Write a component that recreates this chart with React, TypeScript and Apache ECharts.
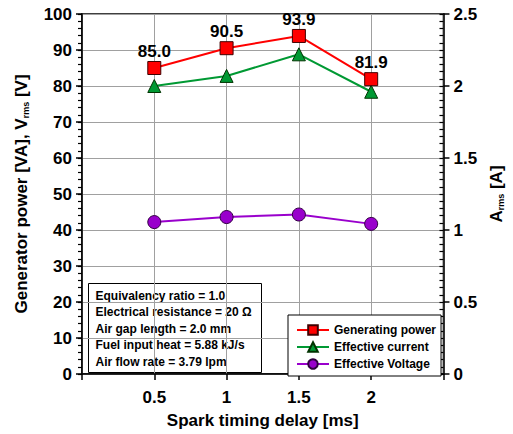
import React, { useEffect, useRef } from "react";
import * as echarts from "echarts";

const delays = [0.5, 1, 1.5, 2];
const generatingPower = [85.0, 90.5, 93.9, 81.9];
const effectiveCurrent = [2.0, 2.07, 2.22, 1.96];
const effectiveVoltage = [42.2, 43.6, 44.3, 41.7];
const infoLines = [
  "Equivalency ratio = 1.0",
  "Electrical resistance = 20 Ω",
  "Air gap length = 2.0 mm",
  "Fuel input heat = 5.88 kJ/s",
  "Air flow rate = 3.79 lpm",
];
const seriesNames = ["Generating power", "Effective current", "Effective Voltage"];

const FONT = "'Liberation Sans', Arial, sans-serif";

export default function App() {
  const ref = useRef<HTMLDivElement>(null);
  useEffect(() => {
    if (!ref.current) return;
    const chart = echarts.init(ref.current, undefined, { renderer: "svg" });
    const pairs = (vals: number[]) => delays.map((d, i) => [d, vals[i]]);
    const grey = "#a0a0a0";
    const labelStyle = { color: "#000", fontSize: 17, fontWeight: "bold", fontFamily: FONT };
    const richName = {
      b: { fontSize: 17, fontWeight: "bold", color: "#000", fontFamily: FONT },
      s: { fontSize: 9, fontWeight: "bold", color: "#000", fontFamily: FONT, verticalAlign: "bottom" },
    };
    chart.setOption({
      animation: false,
      backgroundColor: "#fff",
      textStyle: { fontFamily: FONT },
      grid: {
        left: 82,
        right: 67,
        top: 14,
        bottom: 55,
        show: true,
        borderColor: "#000",
        borderWidth: 1.5,
        backgroundColor: "transparent",
      },
      legend: {
        orient: "vertical",
        left: 288,
        top: 315,
        padding: [9, 5, 6, 8],
        itemGap: 5,
        itemWidth: 32,
        itemHeight: 12,
        backgroundColor: "#fff",
        borderColor: "#000",
        borderWidth: 1,
        borderRadius: 0,
        data: seriesNames,
        textStyle: { fontSize: 12, fontWeight: "bold", color: "#000", fontFamily: FONT },
      },
      xAxis: {
        type: "value",
        min: 0,
        max: 2.5,
        interval: 0.5,
        name: "Spark timing delay [ms]",
        nameLocation: "middle",
        nameGap: 38,
        nameTextStyle: labelStyle,
        axisLine: { show: true, lineStyle: { color: "#000", width: 1.5 } },
        axisTick: { show: true, length: 6, lineStyle: { color: "#000", width: 1.5 } },
        axisLabel: {
          ...labelStyle,
          margin: 15,
          formatter: (v: number) => (v === 0 || v === 2.5 ? "" : String(v)),
        },
        splitLine: { show: true, lineStyle: { color: grey, width: 1 } },
      },
      yAxis: [
        {
          type: "value",
          min: 0,
          max: 100,
          interval: 10,
          position: "left",
          name: "{b|Generator power [VA], V}{s|rms}{b| [V]}",
          nameLocation: "middle",
          nameRotate: 90,
          nameGap: 52,
          nameTextStyle: { rich: richName },
          axisLine: { show: true, lineStyle: { color: "#000", width: 1.5 } },
          axisTick: { show: true, length: 6, lineStyle: { color: "#000", width: 1.5 } },
          axisLabel: { ...labelStyle, margin: 10 },
          splitLine: { show: true, lineStyle: { color: grey, width: 1 } },
        },
        {
          type: "value",
          min: 0,
          max: 2.5,
          interval: 0.5,
          position: "right",
          name: "{b|A}{s|rms}{b| [A]}",
          nameLocation: "middle",
          nameRotate: 90,
          nameGap: 44,
          nameTextStyle: { rich: richName },
          axisLine: { show: true, lineStyle: { color: "#000", width: 1.5 } },
          axisTick: { show: true, length: 6, lineStyle: { color: "#000", width: 1.5 } },
          axisLabel: { ...labelStyle, margin: 10 },
          splitLine: { show: false },
        },
        {
          type: "value",
          min: 0,
          max: 100,
          interval: 2,
          position: "left",
          axisLine: { show: false },
          axisTick: { show: true, inside: false, length: 4, lineStyle: { color: "#000", width: 1.2 } },
          axisLabel: { show: false },
          splitLine: { show: false },
        },
        {
          type: "value",
          min: 0,
          max: 2.5,
          interval: 0.05,
          position: "right",
          axisLine: { show: false },
          axisTick: { show: true, inside: true, length: 4, lineStyle: { color: "#000", width: 1.2 } },
          axisLabel: { show: false },
          splitLine: { show: false },
        },
      ],
      graphic: [
        {
          type: "group",
          left: 88,
          top: 283,
          z: 50,
          children: [
            {
              type: "rect",
              shape: { x: 0, y: 0, width: 173, height: 89 },
              style: { fill: "#fff", stroke: "#000", lineWidth: 1 },
            },
            ...infoLines.map((t, i) => ({
              type: "text",
              x: 7,
              y: 12 + i * 16.5,
              style: {
                text: t,
                fill: "#000",
                font: `bold 12px ${FONT}`,
                verticalAlign: "middle",
              },
            })),
          ],
        },
      ],
      series: [
        {
          name: seriesNames[0],
          type: "line",
          yAxisIndex: 0,
          data: pairs(generatingPower),
          symbol: "rect",
          symbolSize: 13,
          lineStyle: { color: "#ff0000", width: 2 },
          itemStyle: { color: "#ff0000", borderColor: "#400000", borderWidth: 1 },
          label: {
            show: true,
            position: "top",
            distance: 1,
            ...labelStyle,
            formatter: (p: any) => Number(p.value[1]).toFixed(1),
          },
          z: 5,
        },
        {
          name: seriesNames[1],
          type: "line",
          yAxisIndex: 1,
          data: pairs(effectiveCurrent),
          symbol: "triangle",
          symbolSize: 13,
          lineStyle: { color: "#009933", width: 2 },
          itemStyle: { color: "#009933", borderColor: "#003300", borderWidth: 1 },
          z: 4,
        },
        {
          name: seriesNames[2],
          type: "line",
          yAxisIndex: 0,
          data: pairs(effectiveVoltage),
          symbol: "circle",
          symbolSize: 13,
          lineStyle: { color: "#9900cc", width: 2 },
          itemStyle: { color: "#9900cc", borderColor: "#300040", borderWidth: 1 },
          z: 4,
        },
      ],
    });
    return () => chart.dispose();
  }, []);
  return (
    <div
      ref={ref}
      style={{ position: "fixed", left: 0, top: 0, width: 513, height: 434, background: "#fff" }}
    />
  );
}
